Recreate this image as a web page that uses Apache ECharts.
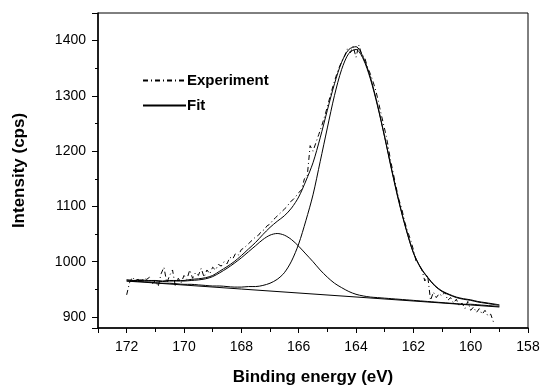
<!DOCTYPE html>
<html>
<head>
<meta charset="utf-8">
<script src="https://cdn.jsdelivr.net/npm/echarts@6/dist/echarts.min.js"></script>
<style>
html,body{margin:0;padding:0;background:#fff;}
#chart{width:540px;height:385px;}
</style>
</head>
<body>
<div id="chart"></div>
<script>
// Binding energy grid for fit curves (eV)
const fitEnergy = [172,171.75,171.5,171.25,171,170.75,170.5,170.25,170,169.75,169.5,169.25,169,168.75,168.5,168.25,168,167.75,167.5,167.25,167,166.75,166.5,166.25,166,165.75,165.5,165.25,165,164.75,164.5,164.25,164,163.75,163.5,163.25,163,162.75,162.5,162.25,162,161.75,161.5,161.25,161,160.75,160.5,160.25,160,159.75,159.5,159.25,159];
// Total fit envelope
const fitTotal = [967,966,967,966,966,965,966,966,966,968,969,971,975,983,991,1000,1011,1023,1035,1049,1062,1073,1083,1097,1117,1146,1179,1224,1274,1322,1361,1384,1389,1370,1334,1284,1226,1166,1109,1059,1017,990,972,957,947,941,936,933,931,928,926,924,922];
// Main component (~164 eV)
const peakMain = [965,964,964,963,962,961,961,960,959,959,958,957,956,956,955,954,954,955,955,957,961,968,980,1001,1032,1074,1121,1181,1242,1301,1348,1377,1384,1367,1331,1282,1225,1164,1107,1058,1016,989,971,956,946,940,935,932,930,927,925,923,921];
// Minor component (~166.8 eV)
const peakSmall = [967,966,966,965,965,964,965,965,965,966,967,969,973,980,988,997,1007,1018,1029,1040,1048,1051,1048,1040,1028,1014,1000,985,972,961,953,946,941,938,936,935,934,933,932,931,930,929,928,927,926,925,924,923,923,922,921,920,919];
// Background line
const bgEnergy = [172,168,164,160,159];
const bgCounts = [965,950.5,936.1,921.6,918];
// Experimental spectrum
const expEnergy = [172,171.9,171.8,171.7,171.6,171.5,171.4,171.3,171.2,171.1,171,170.9,170.8,170.7,170.6,170.5,170.4,170.3,170.2,170.1,170,169.9,169.8,169.7,169.6,169.5,169.4,169.3,169.2,169.1,169,168.9,168.8,168.7,168.6,168.5,168.4,168.3,168.2,168.1,168,167.9,167.8,167.7,167.6,167.5,167.4,167.3,167.2,167.1,167,166.9,166.8,166.7,166.6,166.5,166.4,166.3,166.2,166.1,166,165.9,165.8,165.7,165.6,165.5,165.4,165.3,165.2,165.1,165,164.9,164.8,164.7,164.6,164.5,164.4,164.3,164.2,164.1,164,163.9,163.8,163.7,163.6,163.5,163.4,163.3,163.2,163.1,163,162.9,162.8,162.7,162.6,162.5,162.4,162.3,162.2,162.1,162,161.9,161.8,161.7,161.6,161.5,161.4,161.3,161.2,161.1,161,160.9,160.8,160.7,160.6,160.5,160.4,160.3,160.2,160.1,160,159.9,159.8,159.7,159.6,159.5,159.4,159.3,159.2];
const expCounts = [940,962,972,966,968,964,970,968,972,960,966,955,978,990,962,975,985,955,970,962,975,968,985,970,980,975,988,972,985,978,990,985,995,992,1000,996,1008,1005,1015,1012,1022,1025,1030,1035,1040,1045,1048,1055,1058,1065,1068,1075,1080,1085,1090,1095,1100,1108,1112,1118,1125,1130,1150,1155,1210,1200,1215,1230,1245,1262,1280,1300,1318,1335,1350,1362,1372,1385,1378,1390,1370,1392,1375,1370,1352,1340,1325,1308,1285,1262,1240,1215,1185,1160,1135,1112,1095,1072,1055,1040,1022,1000,995,985,965,975,930,945,935,942,938,945,930,935,925,932,920,925,915,928,912,918,908,915,905,912,902,905,890];
// Axis ticks
const xTicks = [172,170,168,166,164,162,160,158];
const yTicks = [900,1000,1100,1200,1300,1400];

function pairs(xs, ys){ return xs.map((x,i)=>[x, ys[i]]); }

const FONT = 'Liberation Sans, Arial, sans-serif';
const chart = echarts.init(document.getElementById('chart'), null, {renderer:'canvas'});
const fitLine = {color:'#000', width:1, type:'solid'};
chart.setOption({
  animation:false,
  backgroundColor:'#fff',
  grid:{left:98, right:12, top:13, bottom:57, containLabel:false, outerBoundsMode:'none',
    show:true, borderColor:'#000', borderWidth:1, backgroundColor:'transparent'},
  legend:{
    left:137, top:68, orient:'vertical', itemWidth:43, itemHeight:14, itemGap:10,
    data:['Experiment','Fit'],
    itemStyle:{opacity:0, borderWidth:0},
    textStyle:{fontFamily:FONT, fontWeight:'bold', fontSize:15, color:'#000', padding:[0,0,0,-4]}
  },
  xAxis:{
    type:'value', inverse:true, min:158, max:173, interval:2,
    name:'Binding energy (eV)', nameLocation:'middle', nameGap:41,
    nameTextStyle:{fontFamily:FONT, fontWeight:'bold', fontSize:17, color:'#000'},
    axisLine:{show:true, lineStyle:{color:'#000', width:1.5}},
    axisTick:{show:true, inside:false, length:5, lineStyle:{color:'#000'}},
    minorTick:{show:true, splitNumber:2, length:4, lineStyle:{color:'#000'}},
    splitLine:{show:false},
    axisLabel:{margin:12, color:'#000', fontFamily:FONT, fontSize:14,
      formatter:v=> xTicks.indexOf(v)>=0 ? String(v) : ''}
  },
  yAxis:{
    type:'value', min:880, max:1450, splitNumber:5,
    name:'Intensity (cps)', nameLocation:'middle', nameGap:70,
    nameTextStyle:{fontFamily:FONT, fontWeight:'bold', fontSize:17, color:'#000'},
    axisLine:{show:true, lineStyle:{color:'#000', width:1.5}},
    axisTick:{show:true, inside:false, length:6, lineStyle:{color:'#000'}},
    minorTick:{show:true, splitNumber:2, length:3, lineStyle:{color:'#000'}},
    splitLine:{show:false},
    axisLabel:{margin:12, color:'#000', fontFamily:FONT, fontSize:14,
      formatter:v=> yTicks.indexOf(v)>=0 ? String(v) : ''}
  },
  series:[
    {name:'Experiment', type:'line', data:pairs(expEnergy, expCounts), showSymbol:false, symbol:'none',
      lineStyle:{color:'#000', width:1, type:[5,3,1,3]}, itemStyle:{color:'#000'}, z:3},
    {name:'Fit', type:'line', data:pairs(fitEnergy, fitTotal), showSymbol:false, symbol:'none', smooth:0.3,
      lineStyle:fitLine, itemStyle:{color:'#000'}, z:2},
    {name:'Main', type:'line', data:pairs(fitEnergy, peakMain), showSymbol:false, symbol:'none', smooth:0.3,
      lineStyle:fitLine, itemStyle:{color:'#000'}},
    {name:'Minor', type:'line', data:pairs(fitEnergy, peakSmall), showSymbol:false, symbol:'none', smooth:0.3,
      lineStyle:fitLine, itemStyle:{color:'#000'}},
    {name:'Background', type:'line', data:pairs(bgEnergy, bgCounts), showSymbol:false, symbol:'none',
      lineStyle:fitLine, itemStyle:{color:'#000'}}
  ]
});
</script>
</body>
</html>
